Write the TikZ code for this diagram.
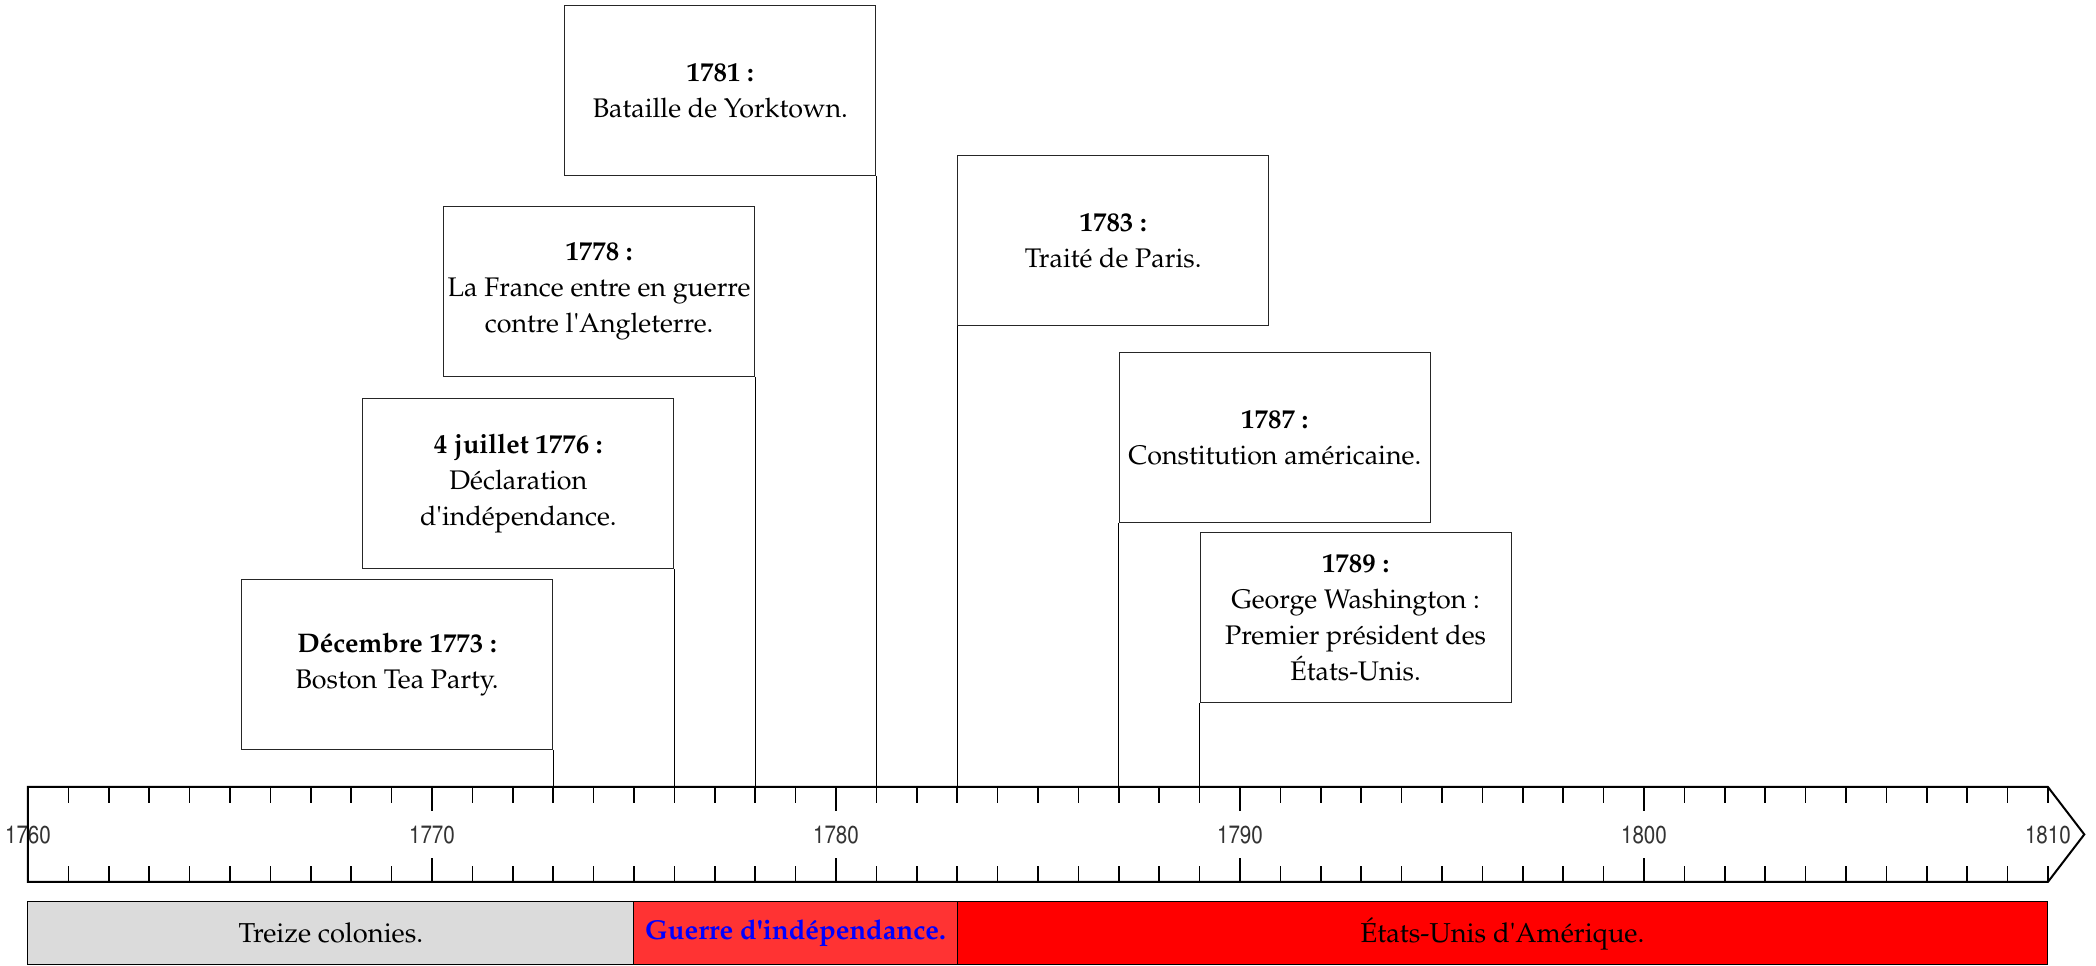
\documentclass[tikz,border=0pt]{standalone}
\usepackage[T1]{fontenc}
\usepackage{mathpazo}
\usepackage[scaled=0.92]{helvet}
\usepackage{textcomp}

\begin{document}
\begin{tikzpicture}[x=18.18pt, y=18.18pt,
    eventbox/.style={draw=black!85, fill=white, line width=0.45pt, inner sep=0pt,
        minimum width=140pt, minimum height=76.5pt, align=center,
        font=\fontsize{12.1pt}{16.2pt}\selectfont},
    band/.style={draw=black, line width=0.45pt},
    bandtext/.style={font=\fontsize{12.3pt}{16.2pt}\selectfont},
    yearlabel/.style={font=\sffamily\fontsize{12pt}{14pt}\selectfont, text=black!80, inner sep=0pt},
    tick/.style={line width=0.7pt},
    link/.style={line width=0.45pt}]
\useasboundingbox (-0.693,-2.079) rectangle (51.19,21.83);

% the axis
\fill[white] (0,0) -- (0,2.35) -- (50,2.35) -- (50.9,1.175) -- (50,0) -- cycle;
\foreach \yr in {1,...,50} {
    \draw[tick] (\yr,2.35) -- ++(0,-0.4);
    \draw[tick] (\yr,0) -- ++(0,0.4);
}
\foreach \yr in {10,20,30,40} {
    \draw[tick] (\yr,2.35) -- ++(0,-0.6);
    \draw[tick] (\yr,0) -- ++(0,0.6);
}
\foreach \yr in {0,10,...,50} {
    \pgfmathtruncatemacro\year{1760+\yr}
    \node[yearlabel] (lab\year) at (\yr,1.15) {\scalebox{0.84}[1]{\year}};
}
\draw[line width=0.9pt] (0,0) -- (0,2.35) -- (50,2.35) -- (50.9,1.175) -- (50,0) -- cycle;
\foreach \year in {1773,1776,1778,1781,1783,1787,1789}
    \coordinate (t\year) at ({\year-1760},2.35);

% events
\node[eventbox, anchor=south east] (e1773) at (13,3.267)
    {\textbf{Décembre 1773 :}\\Boston Tea Party.};
\node[eventbox, anchor=south east] (e1776) at (16,7.748)
    {\textbf{4 juillet 1776 :}\\Déclaration\\d\textquotesingle indépendance.};
\node[eventbox, anchor=south east] (e1778) at (18,12.5)
    {\textbf{1778 :}\\La France entre en guerre\\contre l\textquotesingle Angleterre.};
\node[eventbox, anchor=south east] (e1781) at (21,17.475)
    {\textbf{1781 :}\\Bataille de Yorktown.};
\node[eventbox, anchor=south west] (e1783) at (23,13.76)
    {\textbf{1783 :}\\Traité de Paris.};
\node[eventbox, anchor=south west] (e1787) at (27,8.886)
    {\textbf{1787 :}\\Constitution américaine.};
\node[eventbox, anchor=south west] (e1789) at (29,4.43)
    {\textbf{1789 :}\\George Washington :\\Premier président des\\États-Unis.};

\draw[link] (e1773.south east) -- (t1773);
\draw[link] (e1776.south east) -- (t1776);
\draw[link] (e1778.south east) -- (t1778);
\draw[link] (e1781.south east) -- (t1781);
\draw[link] (e1783.south west) -- (t1783);
\draw[link] (e1787.south west) -- (t1787);
\draw[link] (e1789.south west) -- (t1789);

% periods
\draw[band, fill=black!14] (0,-0.495) rectangle node[bandtext] (colonies) {Treize colonies.} (15,-2.054);
\draw[band, fill=red!80] (15,-0.495) rectangle node[bandtext, text=blue] (guerre) {\textbf{Guerre d\textquotesingle indépendance.}} (23,-2.054);
\draw[band, fill=red] (23,-0.495) rectangle node[bandtext] (usa) {États-Unis d\textquotesingle Amérique.} (50,-2.054);
\end{tikzpicture}
\end{document}
